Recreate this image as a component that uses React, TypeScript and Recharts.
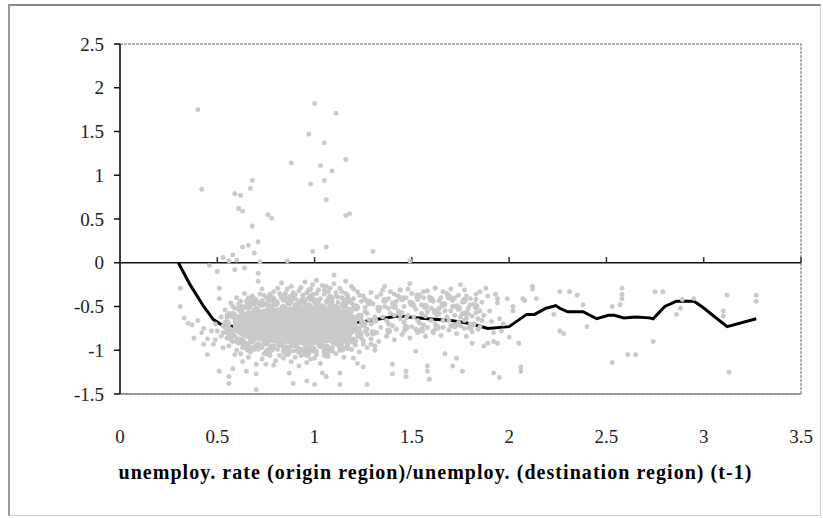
import React from 'react';
import { ComposedChart, XAxis, YAxis, Scatter, Line, Area, ReferenceLine, ReferenceArea, Label } from 'recharts';

const xTicks = [0, 0.5, 1, 1.5, 2, 2.5, 3, 3.5];
const yTicks = [-1.5, -1, -0.5, 0, 0.5, 1, 1.5, 2, 2.5];
const xTitle = 'unemploy. rate (origin region)/unemploy. (destination region) (t-1)';

// smoothed estimate (black line)
const curveX = [0.30, 0.36, 0.43, 0.48, 0.53, 0.62, 0.75, 0.9, 1.05, 1.2, 1.34, 1.43, 1.58, 1.70, 1.76, 1.81, 1.89, 2.0, 2.09, 2.13, 2.19, 2.24, 2.26, 2.30, 2.38, 2.45, 2.51, 2.54, 2.59, 2.65, 2.72, 2.74, 2.80, 2.86, 2.95, 2.99, 3.12, 3.27];
const curveY = [0.0, -0.25, -0.50, -0.65, -0.72, -0.73, -0.72, -0.71, -0.71, -0.69, -0.64, -0.61, -0.64, -0.66, -0.68, -0.70, -0.75, -0.73, -0.59, -0.59, -0.52, -0.49, -0.52, -0.56, -0.56, -0.64, -0.60, -0.60, -0.63, -0.62, -0.63, -0.64, -0.50, -0.44, -0.44, -0.50, -0.73, -0.64];

// densest part of the scatter cloud: x, lower edge, upper edge
const coreX = [0.58, 0.64, 0.70, 0.76, 0.82, 0.88, 0.94, 1.00, 1.06, 1.12, 1.18, 1.22];
const coreHigh = [-0.62, -0.56, -0.54, -0.52, -0.51, -0.50, -0.49, -0.49, -0.50, -0.52, -0.56, -0.62];
const coreLow = [-0.78, -0.86, -0.89, -0.91, -0.92, -0.93, -0.94, -0.94, -0.92, -0.89, -0.85, -0.78];

// overlapping clusters of points around the dense core
const corePuffs: [number, number][] = [
  [0.58, -0.60], [0.62, -0.53], [0.66, -0.50], [0.70, -0.54], [0.73, -0.47], [0.77, -0.51], [0.80, -0.46], [0.84, -0.52],
  [0.87, -0.45], [0.91, -0.49], [0.94, -0.44], [0.97, -0.50], [1.01, -0.45], [1.04, -0.51], [1.08, -0.46], [1.11, -0.52],
  [1.15, -0.49], [1.18, -0.55], [1.21, -0.51], [0.57, -0.82], [0.61, -0.89], [0.64, -0.93], [0.68, -0.88], [0.71, -0.95],
  [0.75, -0.91], [0.78, -0.97], [0.82, -0.92], [0.85, -0.98], [0.89, -0.93], [0.92, -1.00], [0.96, -0.95], [0.99, -0.99],
  [1.03, -0.93], [1.06, -0.97], [1.10, -0.90], [1.13, -0.93], [1.17, -0.86], [1.20, -0.89], [1.23, -0.82], [0.55, -0.70],
  [0.56, -0.77], [1.23, -0.62], [1.25, -0.70], [1.22, -0.76], [0.68, -0.43], [0.78, -0.41], [0.88, -0.40], [0.98, -0.40],
  [1.08, -0.41], [1.16, -0.44], [0.66, -0.98], [0.76, -1.02], [0.86, -1.03], [0.96, -1.04], [1.06, -1.02], [1.14, -0.98],
];

// looser clusters to the right of the core
const midPuffs: [number, number][] = [
  [1.28, -0.45], [1.30, -0.80], [1.33, -0.52], [1.36, -0.43], [1.38, -0.78], [1.41, -0.50], [1.45, -0.41], [1.47, -0.74],
  [1.50, -0.47], [1.53, -0.38], [1.55, -0.77], [1.57, -0.50], [1.60, -0.42], [1.63, -0.74], [1.66, -0.48], [1.69, -0.39],
  [1.72, -0.72], [1.74, -0.52], [1.77, -0.43], [1.80, -0.74], [1.83, -0.50], [1.31, -0.66], [1.44, -0.58], [1.62, -0.56],
  [1.78, -0.58],
];

const pointsAbove: [number, number][] = [
  [0.40, 1.75], [0.42, 0.84], [0.59, 0.79], [0.62, 0.77], [0.68, 0.94], [0.67, 0.85], [0.61, 0.62], [0.63, 0.59],
  [0.68, 0.42], [0.76, 0.55], [0.78, 0.51], [0.63, 0.18], [0.66, 0.20], [0.71, 0.24], [0.69, 0.11], [0.53, 0.06],
  [0.58, 0.09], [0.88, 1.14], [1.00, 1.82], [1.11, 1.71], [0.97, 1.47], [1.05, 1.37], [1.16, 1.18], [1.03, 1.11],
  [1.09, 1.05], [0.98, 0.90], [1.05, 0.94], [1.06, 0.72], [1.16, 0.54], [1.18, 0.56], [0.99, 0.13], [1.06, 0.18],
  [1.30, 0.13], [0.56, 0.02], [0.60, 0.03], [0.72, 0.01], [0.86, 0.02], [1.49, 0.02], [0.46, -0.03],
];

const pointsFringe: [number, number][] = [
  [0.31, -0.29], [0.31, -0.50], [0.33, -0.63], [0.35, -0.69], [0.37, -0.71], [0.38, -0.86], [0.40, -0.66], [0.42, -0.80],
  [0.43, -0.75], [0.43, -0.93], [0.45, -0.87], [0.45, -1.05], [0.47, -0.78], [0.48, -0.93], [0.49, -0.70], [0.50, -0.10],
  [0.51, -0.29], [0.51, -0.41], [0.52, -0.84], [0.53, -0.97], [0.51, -1.24], [0.55, -0.60], [0.56, -1.30], [0.56, -1.38],
  [0.59, -1.05], [0.63, -1.13], [0.70, -1.16], [0.75, -1.16], [0.79, -1.17], [0.70, -1.27], [0.65, -1.24], [0.58, -1.21],
  [0.87, -1.26], [0.89, -1.38], [0.96, -1.35], [1.00, -1.39], [0.84, -1.09], [0.92, -1.18], [1.04, -1.26], [0.70, -1.45],
  [0.71, -0.12], [0.71, -0.21], [0.59, -0.08], [0.64, -0.06], [0.83, -0.23], [1.10, -0.14], [1.16, -0.21], [1.06, -0.27],
  [1.36, -0.27], [1.49, -0.24], [1.62, -0.29], [1.75, -0.25], [1.44, -0.31], [1.20, -1.09], [1.22, -1.15], [1.25, -1.19],
  [1.31, -0.95], [1.40, -1.16], [1.40, -1.27], [1.47, -1.24], [1.47, -1.30], [1.52, -1.01], [1.58, -1.18], [1.58, -1.24],
  [1.59, -1.33], [1.67, -1.04], [1.73, -1.09], [1.71, -1.18], [1.76, -1.24], [1.78, -0.84], [1.81, -0.92], [1.87, -0.95],
  [1.13, -1.39], [1.27, -1.39], [1.06, -1.30], [1.13, -1.26], [0.52, -0.62], [0.53, -0.72], [0.55, -0.86], [0.54, -0.54],
  [0.50, -0.78], [0.49, -0.88],
];

const pointsCoreEdge: [number, number][] = [
  [0.57, -0.46], [0.60, -0.40], [0.64, -0.35], [0.68, -0.38], [0.73, -0.30], [0.77, -0.36], [0.81, -0.29], [0.85, -0.35],
  [0.88, -0.27], [0.92, -0.32], [0.95, -0.22], [0.98, -0.30], [1.01, -0.20], [1.04, -0.26], [1.07, -0.33], [1.10, -0.24],
  [1.13, -0.29], [1.16, -0.35], [1.19, -0.27], [1.22, -0.33], [1.25, -0.38], [0.58, -0.90], [0.62, -1.04], [0.66, -1.08],
  [0.69, -0.96], [0.73, -1.10], [0.77, -1.06], [0.80, -1.12], [0.84, -1.02], [0.88, -1.13], [0.92, -1.00], [0.96, -1.14],
  [1.00, -1.09], [1.03, -1.15], [1.07, -1.07], [1.11, -1.04], [1.15, -1.08], [1.19, -0.99], [1.23, -1.02], [1.27, -0.97],
  [1.31, -1.00], [0.62, -0.55], [0.70, -0.42], [0.75, -0.39], [0.83, -0.40], [0.99, -0.36], [1.12, -0.39], [1.18, -0.43],
  [0.64, -0.93], [0.72, -0.97], [0.86, -0.98], [0.94, -1.02], [1.05, -1.01], [1.17, -0.93], [1.24, -0.86],
];

const pointsCoreRing: [number, number][] = [
  [0.56, -0.58], [0.59, -0.52], [0.61, -0.47], [0.63, -0.50], [0.65, -0.44], [0.67, -0.48], [0.69, -0.41], [0.71, -0.46],
  [0.73, -0.43], [0.74, -0.37], [0.76, -0.47], [0.78, -0.40], [0.80, -0.44], [0.82, -0.35], [0.84, -0.43], [0.85, -0.39],
  [0.87, -0.45], [0.89, -0.34], [0.90, -0.41], [0.92, -0.44], [0.94, -0.37], [0.95, -0.42], [0.97, -0.31], [0.98, -0.40],
  [1.00, -0.43], [1.01, -0.35], [1.03, -0.41], [1.05, -0.31], [1.06, -0.44], [1.08, -0.38], [1.09, -0.42], [1.11, -0.34],
  [1.12, -0.45], [1.14, -0.40], [1.15, -0.47], [1.17, -0.37], [1.19, -0.46], [1.20, -0.41], [1.22, -0.50], [1.24, -0.44],
  [1.26, -0.51], [1.28, -0.47], [0.55, -0.80], [0.57, -0.88], [0.59, -0.84], [0.61, -0.92], [0.63, -0.88], [0.65, -0.96],
  [0.67, -0.91], [0.69, -0.99], [0.71, -0.93], [0.73, -0.97], [0.75, -0.92], [0.77, -1.01], [0.79, -0.95], [0.81, -0.99],
  [0.83, -0.94], [0.85, -1.04], [0.87, -0.97], [0.89, -1.01], [0.91, -0.96], [0.93, -1.06], [0.95, -0.99], [0.97, -1.03],
  [0.99, -0.98], [1.01, -1.01], [1.03, -0.96], [1.05, -1.06], [1.07, -0.97], [1.09, -1.01], [1.11, -0.93], [1.13, -0.96],
  [1.15, -0.90], [1.17, -0.98], [1.19, -0.88], [1.21, -0.94], [1.23, -0.84], [1.25, -0.89], [1.27, -0.82], [1.29, -0.93],
  [0.54, -0.68], [0.54, -0.74], [0.55, -0.63], [0.53, -0.80], [1.24, -0.60], [1.25, -0.70], [1.27, -0.76], [1.28, -0.65],
  [1.26, -0.56],
];

const pointsCloud: [number, number][] = [
  [0.58, -0.50], [0.62, -0.44], [0.66, -0.40], [0.69, -0.47], [0.72, -0.36], [0.76, -0.42], [0.79, -0.33], [0.83, -0.38],
  [0.86, -0.30], [0.90, -0.36], [0.93, -0.28], [0.96, -0.34], [0.99, -0.25], [1.02, -0.31], [1.05, -0.36], [1.08, -0.29],
  [1.11, -0.38], [1.14, -0.33], [1.17, -0.40], [1.20, -0.30], [1.23, -0.37], [1.26, -0.42], [1.29, -0.34], [1.32, -0.39],
  [1.35, -0.31], [1.38, -0.41], [1.41, -0.36], [1.44, -0.31], [1.47, -0.40], [1.50, -0.35], [1.53, -0.42], [1.56, -0.33],
  [1.59, -0.39], [1.62, -0.29], [1.65, -0.40], [1.68, -0.35], [1.71, -0.43], [1.74, -0.37], [1.77, -0.31], [1.80, -0.41],
  [1.83, -0.36], [1.86, -0.45], [1.36, -0.50], [1.40, -0.46], [1.43, -0.55], [1.46, -0.50], [1.49, -0.45], [1.52, -0.53],
  [1.55, -0.48], [1.58, -0.56], [1.61, -0.44], [1.64, -0.52], [1.67, -0.47], [1.70, -0.55], [1.73, -0.49], [1.76, -0.58],
  [1.79, -0.52], [1.82, -0.47], [1.85, -0.55], [0.56, -0.95], [0.60, -1.00], [0.63, -0.97], [0.67, -1.02], [0.71, -0.99],
  [0.74, -1.04], [0.78, -1.00], [0.82, -1.06], [0.86, -1.01], [0.90, -1.08], [0.94, -1.04], [0.98, -1.10], [1.01, -1.05],
  [1.05, -1.02], [1.09, -0.97], [1.13, -1.00], [1.17, -0.94], [1.21, -0.90], [1.25, -0.93], [1.29, -0.87], [1.33, -0.90],
  [1.37, -0.84], [1.41, -0.88], [1.45, -0.82], [1.49, -0.86], [1.53, -0.80], [1.57, -0.84], [1.61, -0.78], [1.65, -0.83],
  [1.69, -0.77], [1.73, -0.81], [1.77, -0.75], [1.81, -0.79], [1.85, -0.73], [1.34, -0.74], [1.38, -0.70], [1.42, -0.76],
  [1.46, -0.68], [1.50, -0.73], [1.54, -0.69], [1.58, -0.74], [1.62, -0.70], [1.66, -0.66], [1.70, -0.72], [1.74, -0.68],
  [1.78, -0.64], [1.82, -0.70], [1.86, -0.66], [1.35, -0.62], [1.39, -0.58], [1.44, -0.64], [1.48, -0.60], [1.53, -0.66],
  [1.57, -0.61], [1.63, -0.60], [1.68, -0.62], [1.72, -0.60], [1.77, -0.66], [1.81, -0.61], [1.84, -0.64],
  [1.22, -0.52], [1.24, -0.66], [1.26, -0.78], [1.27, -0.58], [1.29, -0.70], [1.30, -0.47], [1.31, -0.62], [1.32, -0.80],
  [1.33, -0.55], [1.37, -0.66], [1.38, -0.52], [1.40, -0.72], [1.41, -0.60], [1.42, -0.44], [1.45, -0.57], [1.46, -0.78],
  [1.47, -0.63], [1.51, -0.49], [1.51, -0.62], [1.52, -0.76], [1.55, -0.58], [1.56, -0.71], [1.56, -0.40], [1.60, -0.52],
  [1.60, -0.66], [1.61, -0.80], [1.64, -0.58], [1.64, -0.43], [1.66, -0.74], [1.67, -0.55], [1.69, -0.66], [1.71, -0.50],
  [1.72, -0.40], [1.75, -0.62], [1.75, -0.72], [1.76, -0.45], [1.79, -0.58], [1.80, -0.70], [1.80, -0.48], [1.83, -0.42],
  [1.83, -0.57], [1.84, -0.76], [1.27, -0.44], [1.34, -0.36], [1.39, -0.33], [1.43, -0.38], [1.48, -0.30], [1.54, -0.37],
  [1.58, -0.32], [1.66, -0.33], [1.70, -0.30], [1.78, -0.38], [1.85, -0.33],
];

const pointsRight: [number, number][] = [
  [1.88, -0.29], [1.89, -0.38], [1.93, -0.36], [1.94, -0.41], [1.94, -0.46], [1.99, -0.41], [1.87, -0.60], [1.90, -0.55],
  [1.91, -0.67], [1.95, -0.64], [1.97, -0.70], [1.92, -0.80], [1.96, -0.78], [1.89, -0.92], [1.92, -0.90], [1.94, -0.92],
  [2.00, -0.85], [2.02, -0.50], [2.02, -0.55], [2.07, -0.41], [2.08, -0.43], [2.12, -0.27], [2.12, -0.30], [2.14, -0.41],
  [2.26, -0.33], [2.31, -0.33], [2.35, -0.37], [2.38, -0.48], [2.40, -0.73], [2.26, -0.78], [2.28, -0.81], [2.23, -0.59],
  [2.58, -0.29], [2.58, -0.36], [2.58, -0.41], [2.57, -0.48], [2.53, -0.50], [2.53, -1.14], [2.61, -1.05], [2.65, -1.05],
  [2.05, -0.92], [2.06, -1.19], [2.06, -1.24], [1.92, -1.26], [1.95, -1.31], [2.75, -0.33], [2.79, -0.33], [2.86, -0.59],
  [2.88, -0.52], [2.89, -0.42], [2.95, -0.41], [3.12, -0.37], [3.10, -0.55], [3.10, -0.61], [3.27, -0.37], [3.27, -0.44],
  [2.74, -0.90], [3.13, -1.25],
];

const FONT = "'Liberation Serif', 'Times New Roman', serif";
const W = 823;
const H = 518;
const GRAY = '#cacaca';

const Dot = (props: any) => {
  const { cx, cy } = props;
  if (cx == null || cy == null) return null;
  return <circle cx={cx} cy={cy} r={2.2} fill={GRAY} stroke="#c0c0c0" strokeWidth={0.5} />;
};

const Puff = (props: any) => {
  const { cx, cy } = props;
  if (cx == null || cy == null) return null;
  return <circle cx={cx} cy={cy} r={4.2} fill={GRAY} />;
};

const SmallPuff = (props: any) => {
  const { cx, cy } = props;
  if (cx == null || cy == null) return null;
  return <circle cx={cx} cy={cy} r={3.4} fill={GRAY} />;
};

export default function App() {
  const curve = curveX.map((x, i) => ({ x, y: curveY[i] }));
  const core = coreX.map((x, i) => ({ x, band: [coreLow[i], coreHigh[i]] }));
  const puffs = corePuffs.map(([x, y]) => ({ x, y }));
  const mids = midPuffs.map(([x, y]) => ({ x, y }));
  const pts = [
    ...pointsAbove, ...pointsFringe, ...pointsCoreEdge, ...pointsCoreRing, ...pointsCloud, ...pointsRight,
  ].map(([x, y]) => ({ x, y }));
  const tickStyle = { fontFamily: FONT, fontSize: 19, fill: '#222', style: { fontFamily: FONT } };

  return (
    <div style={{ position: 'absolute', left: 0, top: 0, width: W, height: H, background: '#fff', fontFamily: FONT }}>
      <div style={{ position: 'absolute', left: 8, top: 4, width: 810, height: 509, borderLeft: '2px solid #999', borderTop: '2px solid #888', borderRight: '1px solid #ccc', borderBottom: '1px solid #ccc' }} />
      {/* base layer: axes, frame, smoothed line */}
      <div style={{ position: 'absolute', left: 0, top: 0 }}>
        <ComposedChart width={W} height={H} margin={{ top: 44, right: 22, bottom: 34, left: 60 }} style={{ fontFamily: FONT }}>
          <ReferenceArea x1={0} x2={3.5} y1={-1.5} y2={2.5} fill="none" stroke="#9a9a9a" strokeWidth={1.5} strokeDasharray="3 1" ifOverflow="extendDomain" />
          <XAxis
            type="number"
            dataKey="x"
            domain={[0, 3.5]}
            ticks={xTicks}
            allowDataOverflow
            axisLine={{ stroke: '#8a8a8a', strokeWidth: 1.5 }}
            tickLine={false}
            tickSize={0}
            tickMargin={36}
            height={90}
            tick={tickStyle}
          >
            <Label value={xTitle} position="insideBottom" offset={5} dx={-25} fontFamily={FONT} fontSize={20} fontWeight="bold" letterSpacing={1.05} fill="#000" style={{ fontFamily: FONT, letterSpacing: '1.05px' }} />
          </XAxis>
          <YAxis
            type="number"
            dataKey="y"
            domain={[-1.5, 2.5]}
            ticks={yTicks}
            allowDataOverflow
            width={60}
            axisLine={{ stroke: '#111', strokeWidth: 1.5 }}
            tickLine={{ stroke: '#111', strokeWidth: 1.5 }}
            tickSize={6}
            tickMargin={10}
            tick={tickStyle}
          />
          <ReferenceLine y={0} stroke="#111" strokeWidth={1.5} />
          {xTicks.slice(1).map((t) => (
            <ReferenceLine key={t} segment={[{ x: t, y: 0 }, { x: t, y: 0.065 }]} stroke="#333" strokeWidth={1.5} />
          ))}
          <Line data={curve} dataKey="y" type="linear" stroke="#000" strokeWidth={3} dot={false} activeDot={false} isAnimationActive={false} />
        </ComposedChart>
      </div>
      {/* top layer: scatter cloud drawn over the line, same scales */}
      <div style={{ position: 'absolute', left: 0, top: 0, pointerEvents: 'none' }}>
        <ComposedChart width={W} height={H} margin={{ top: 44, right: 22, bottom: 124, left: 120 }}>
          <XAxis type="number" dataKey="x" domain={[0, 3.5]} allowDataOverflow hide />
          <YAxis type="number" dataKey="y" domain={[-1.5, 2.5]} allowDataOverflow hide />
          <Area data={core} dataKey="band" type="monotone" stroke="none" fill={GRAY} fillOpacity={1} isAnimationActive={false} activeDot={false} />
          <Scatter data={puffs} dataKey="y" shape={<Puff />} isAnimationActive={false} />
          <Scatter data={mids} dataKey="y" shape={<SmallPuff />} isAnimationActive={false} />
          <Scatter data={pts} dataKey="y" shape={<Dot />} isAnimationActive={false} />
        </ComposedChart>
      </div>
    </div>
  );
}
